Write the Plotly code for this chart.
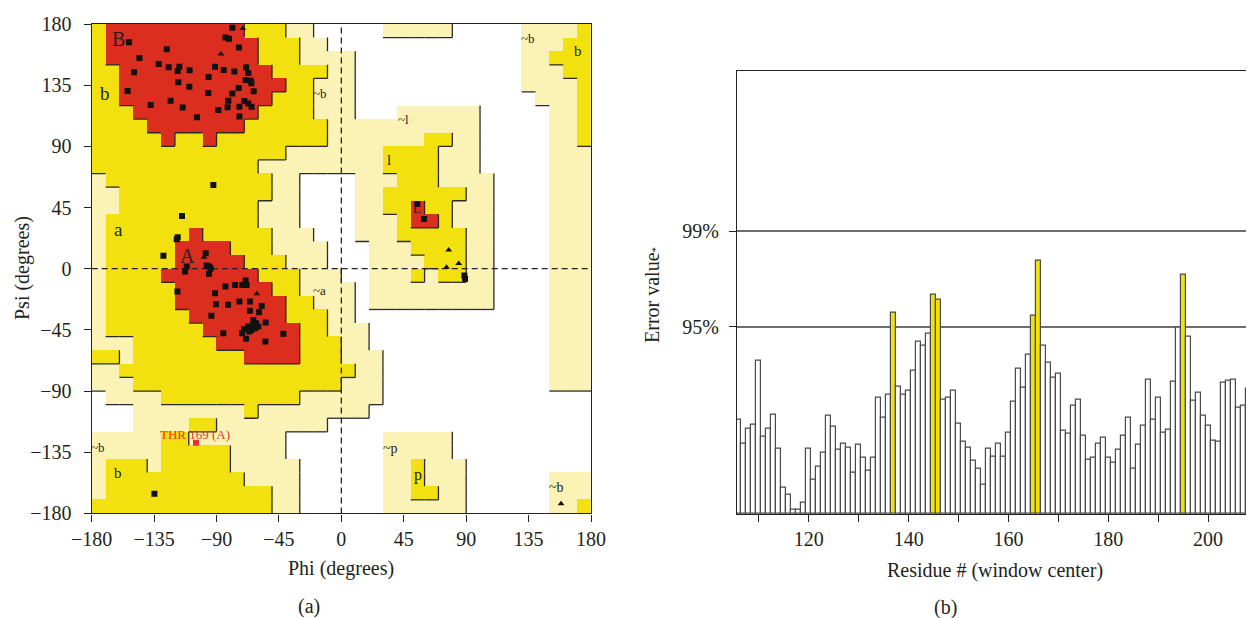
import plotly.graph_objects as go

# ---------------- Ramachandran region map (10-degree cells) ----------------
# One entry per psi band, from psi=+180 (top) down to -180; run-length "level:count" along phi -180..180
# 0 = disallowed, 1 = generously allowed, 2 = additional allowed, 3 = most favoured
region_rows = [
    "2:1 3:10 2:3 1:2 0:5 1:5 0:5 1:4 2:1",
    "2:1 3:11 2:3 1:2 0:14 1:3 2:2",
    "2:1 3:11 2:3 1:4 0:12 1:2 2:3",
    "2:2 3:11 2:4 1:2 0:12 1:3 2:2",
    "2:2 3:12 2:2 1:3 0:12 1:4 2:1",
    "2:2 3:11 2:3 1:3 0:13 1:3 2:1",
    "2:3 3:9 2:4 1:3 0:3 1:6 0:5 1:2 2:1",
    "2:4 3:7 2:6 1:11 0:5 1:2 2:1",
    "2:5 3:1 2:2 3:1 2:8 1:7 2:2 1:2 0:5 1:2 2:1",
    "2:14 1:7 2:4 1:3 0:5 1:3",
    "2:12 1:9 2:4 1:3 0:5 1:3",
    "1:1 2:12 1:2 0:4 1:3 2:3 1:4 0:4 1:3",
    "1:2 2:11 1:2 0:4 1:2 2:6 1:2 0:4 1:3",
    "1:2 2:10 1:3 0:4 1:2 2:2 3:1 2:2 1:3 0:4 1:3",
    "1:1 2:11 1:3 0:4 1:3 2:1 3:2 2:1 1:3 0:4 1:3",
    "1:1 2:6 3:1 2:5 1:3 0:3 1:3 2:5 1:2 0:4 1:3",
    "1:1 2:5 3:4 2:3 1:4 0:3 1:3 2:4 1:2 0:4 1:3",
    "1:1 2:5 3:5 2:3 1:3 0:3 1:4 2:3 1:2 0:4 1:3",
    "1:1 2:4 3:7 2:3 1:3 0:2 1:3 2:1 1:1 2:2 1:2 0:4 1:3",
    "1:1 2:5 3:7 2:2 1:4 0:1 1:9 0:4 1:3",
    "1:1 2:5 3:8 2:2 1:3 0:1 1:9 0:4 1:3",
    "1:1 2:6 3:7 2:3 1:2 0:14 1:3",
    "1:1 2:7 3:7 2:2 1:3 0:13 1:3",
    "1:3 2:6 3:6 2:3 1:2 0:13 1:3",
    "2:2 1:1 2:8 3:4 2:3 1:3 0:12 1:3",
    "1:2 2:17 1:2 0:12 1:3",
    "1:3 2:15 1:3 0:12 1:3",
    "0:1 1:4 2:10 1:6 0:15",
    "0:3 1:8 2:1 1:8 0:16",
    "0:3 1:4 2:2 1:8 0:19",
    "1:5 2:2 1:7 0:7 1:5 0:10",
    "1:5 2:5 1:4 0:7 1:5 0:10",
    "1:1 2:3 1:1 2:5 1:5 0:6 1:2 2:1 1:3 0:9",
    "1:1 2:10 1:4 0:6 1:2 2:1 1:3 0:6 1:3",
    "1:1 2:12 1:2 0:6 1:2 2:2 1:2 0:6 1:3",
    "2:13 1:2 0:6 1:6 0:6 1:2 2:1",
]

# residues (non-glycine, squares)
res_phi = [-153.1, -125.9, -145.6, -149.5, -131.7, -124.5, -116.8, -118.0, -109.4, -117.5, -109.6,
           -154.1, -123.1, -137.5, -114.4, -104.1, -95.7, -95.9, -91.1, -84.8, -88.7, -82.0, -81.5,
           -78.6, -77.1, -74.0, -73.8, -83.6, -81.0, -78.6, -68.7, -67.1, -69.0, -65.4, -64.9, -63.2,
           -73.5, -69.9, -67.1, -64.7, -73.5,
           -92.3, -114.9, -118.0, -118.7, -128.3, -97.8, -97.1, -95.2, -94.2, -111.5, -112.7, -95.4,
           -118.2, -91.1, -83.6, -76.7, -71.4, -69.0, -68.3, -90.4, -81.7, -73.5, -65.9, -65.9, -59.4,
           -57.4, -93.7, -85.1, -71.6, -68.7, -70.2, -67.1, -64.7, -63.5, -61.5, -59.9, -62.3, -54.6,
           -54.8, -41.8, -66.3, -63.5, -134.8, 54.8, 59.6, 89.2, 88.7]
res_psi = [166.5, 161.4, 155.0, 144.5, 150.6, 148.1, 148.6, 145.4, 146.0, 137.1, 133.9,
           130.8, 123.6, 120.4, 118.5, 111.4, 141.0, 129.3, 148.6, 146.2, 116.8, 118.7, 123.6,
           128.8, 145.0, 133.0, 162.8, 170.0, 169.2, 177.3, 148.1, 144.0, 138.8, 138.3, 136.4, 130.5,
           119.2, 123.4, 121.6, 119.2, 111.9,
           61.6, 38.8, 23.1, 21.6, 9.6, 11.4, 2.3, 1.6, 0.1, 1.6, -2.1, -3.8,
           -16.8, -18.0, -13.1, -11.9, -11.9, -8.7, -11.9, -26.1, -26.6, -24.2, -24.2, -31.0, -32.0,
           -27.4, -34.7, -47.5, -47.5, -51.6, -44.5, -42.6, -45.0, -37.7, -40.1, -42.6, -43.8, -39.6,
           -53.6, -47.9, -46.2, -41.3, -165.6, 47.6, 36.6, -7.5, -5.0]
# glycines (triangles)
gly_phi = [-86.8, -71.1, -99.0, -61.0, 77.4, 75.8, 84.6, 158.4]
gly_psi = [158.0, 176.6, 8.4, -18.5, 13.8, 1.0, 3.8, -172.9]
# outlier
out_phi = [-104.8]
out_psi = [-128.1]
out_label = "THR 169 (A)"

phi_ticks = [-180, -135, -90, -45, 0, 45, 90, 135, 180]

# ---------------- ERRAT data ----------------
residues = list(range(106, 210))
errat = [5.75, 4.25, 5.21, 5.41, 9.30, 4.70, 5.21, 6.01, 3.99, 1.60, 1.19, 0.24, 0.24, 0.69,
         3.95, 2.11, 2.88, 3.75, 5.95, 5.31, 3.89, 4.29, 4.03, 2.51, 4.23, 3.42, 2.61, 3.42,
         7.09, 5.85, 7.23, 12.25, 7.74, 7.23, 7.47, 8.69, 10.47, 10.21, 10.98, 13.30, 13.00,
         6.97, 7.07, 7.49, 5.47, 4.39, 4.05, 3.24, 2.77, 1.76, 3.99, 3.48, 4.29, 3.48, 4.94,
         6.82, 8.81, 7.70, 9.66, 12.03, 15.39, 10.21, 9.21, 8.28, 8.55, 5.04, 4.86, 6.56, 6.93,
         4.74, 3.32, 3.42, 4.29, 4.64, 3.42, 3.14, 3.89, 4.74, 5.85, 2.77, 4.23, 5.35, 8.18,
         5.75, 7.09, 4.94, 5.14, 8.04, 11.30, 14.52, 10.77, 6.87, 7.39, 5.97, 5.35, 4.43, 4.39,
         7.98, 8.10, 8.18, 6.48, 6.56, 7.63, 9.09]
limit95 = 11.38
limit99 = 17.19
res_major = [120, 140, 160, 180, 200]
res_minor = [110, 130, 150, 170, 190]

# ---------------- build ----------------
def decode(row):
    out = []
    for tok in row.split():
        lv, n = tok.split(":")
        out += [int(lv)] * int(n)
    assert len(out) == 36, row
    return out

grid = [decode(r) for r in region_rows]
phi_c = [-175 + 10 * i for i in range(36)]
psi_c = [175 - 10 * i for i in range(36)]

WHITE, PALE, YEL, RED = "#ffffff", "#fbf3b6", "#f2e10e", "#dc2e1e"
cs = [[0, WHITE], [1/6, WHITE], [1/6, PALE], [0.5, PALE], [0.5, YEL], [5/6, YEL], [5/6, RED], [1, RED]]

fig = go.Figure()
fig.add_trace(go.Heatmap(z=grid, x=phi_c, y=psi_c, zmin=0, zmax=3, colorscale=cs,
                         showscale=False, hoverinfo="skip", xaxis="x", yaxis="y"))

# region edge shading lines (right / bottom edges of higher regions)
bx, by = [], []
for r in range(36):
    for c in range(36):
        v = grid[r][c]
        if c < 35 and v > grid[r][c + 1]:
            xe = -180 + 10 * (c + 1)
            bx += [xe, xe, None]
            by += [180 - 10 * r, 170 - 10 * r, None]
        if r < 35 and v > grid[r + 1][c]:
            ye = 170 - 10 * r
            bx += [-180 + 10 * c, -170 + 10 * c, None]
            by += [ye, ye, None]
fig.add_trace(go.Scatter(x=bx, y=by, mode="lines", line=dict(color="#2a2a2a", width=1.3),
                         hoverinfo="skip", showlegend=False, xaxis="x", yaxis="y"))

# dashed zero lines
fig.add_trace(go.Scatter(x=[0, 0, None, -180, 180], y=[-180, 180, None, 0, 0], mode="lines",
                         line=dict(color="#222", width=1.3, dash="6px,4px"),
                         hoverinfo="skip", showlegend=False, xaxis="x", yaxis="y"))

fig.add_trace(go.Scatter(x=res_phi, y=res_psi, mode="markers",
                         marker=dict(symbol="square", size=6, color="#111"),
                         showlegend=False, xaxis="x", yaxis="y"))
fig.add_trace(go.Scatter(x=gly_phi, y=gly_psi, mode="markers",
                         marker=dict(symbol="triangle-up", size=6, color="#111"),
                         showlegend=False, xaxis="x", yaxis="y"))
fig.add_trace(go.Scatter(x=out_phi, y=out_psi, mode="markers",
                         marker=dict(symbol="square", size=6, color="#e8322a"),
                         showlegend=False, xaxis="x", yaxis="y"))

# ERRAT bars
bar_colors = ["#ffffff" if v < limit95 else ("#f2e10e" if v < limit99 else "#e02020") for v in errat]
fig.add_trace(go.Bar(x=residues, y=errat, width=1.0, marker=dict(color=bar_colors,
                     line=dict(color="#4a4a4a", width=1.2)),
                     showlegend=False, xaxis="x2", yaxis="y2"))

FONT = "Liberation Serif"
TXT = "#231f20"

# page pixel -> paper (the page body has an 8px margin)
OFF = 8
W, H = 1254 - OFF, 618 - OFF
def px(X):
    return (X - OFF) / W
def py(Y):
    return 1 - (Y - OFF) / H

def neg(v):
    return ("\u2212" + str(abs(v))) if v < 0 else str(v)

axis_common = dict(showline=True, linecolor="#222", linewidth=1.3, ticks="outside",
                   ticklen=7, tickcolor="#222", tickwidth=1.2, zeroline=False,
                   automargin=False, tickfont=dict(family=FONT, size=20, color=TXT))

fig.update_layout(
    width=W, height=H, autosize=False,
    margin=dict(l=0, r=0, t=0, b=0, autoexpand=False),
    paper_bgcolor="white", plot_bgcolor="white",
    bargap=0,
    xaxis=dict(domain=[px(91.7), px(591)], range=[-180, 180], tickvals=phi_ticks,
               ticktext=[neg(v) for v in phi_ticks], mirror=True, showgrid=False, **axis_common),
    yaxis=dict(domain=[py(513.4), py(24)], range=[-180, 180], tickvals=phi_ticks,
               ticktext=[neg(v) for v in phi_ticks], mirror=True, showgrid=False,
               ticklabelstandoff=8, **axis_common),
    xaxis2=dict(domain=[px(737), 1.0], range=[105.6, 209.2], tickvals=res_major,
                ticktext=[str(v) for v in res_major], mirror=True, showgrid=False,
                minor=dict(tickvals=res_minor, ticks="outside", ticklen=7, tickcolor="#222",
                           tickwidth=1.2, showgrid=False),
                anchor="y2", **axis_common),
    yaxis2=dict(domain=[py(514), py(70.7)], range=[0, 26.93],
                tickvals=[limit95, limit99], ticktext=["95%", "99%"], anchor="x2",
                showgrid=True, gridcolor="#6e6e6e", gridwidth=1.6, ticklabelstandoff=6,
                **axis_common),
)

ann = []
def paper_text(t, x, y, size=20, angle=0):
    ann.append(dict(text=t, x=px(x), y=py(y), xref="paper", yref="paper",
                    showarrow=False, textangle=angle, xanchor="center", yanchor="middle",
                    font=dict(family=FONT, size=size, color=TXT)))

paper_text("Psi (degrees)", 22, 268, angle=-90)
paper_text("Phi (degrees)", 341, 568)
paper_text("(a)", 309, 606)
paper_text("Error value<span style='font-size:11px'>*</span>", 652, 295, angle=-90)
paper_text("Residue # (window center)", 995, 570)
paper_text("(b)", 945, 607)

labels = [("B", -160.8, 169, 20), ("b", -170.2, 129, 19), ("a", -160.8, 29, 19), ("A", -110.8, 9.4, 20),
          ("~b", -15.4, 129, 13), ("~l", 44.7, 109.4, 13), ("l", 34.6, 80, 15), ("L", 54.8, 44.5, 13),
          ("~b", 134.8, 169.5, 13), ("b", 170.8, 160, 15), ("~a", -15.4, -16, 13), ("~b", -175.2, -131.3, 13),
          ("b", -160.8, -150.4, 15), ("~p", 35.1, -132, 14), ("p", 55.5, -151.6, 16), ("~b", 155.3, -160.7, 14)]
for t, x, y, s in labels:
    ann.append(dict(text=t, x=x, y=y, xref="x", yref="y", showarrow=False,
                    font=dict(family=FONT, size=s, color="#222")))
ann.append(dict(text=out_label, x=-105.4, y=-122.2, xref="x", yref="y", showarrow=False,
                font=dict(family=FONT, size=13, color="#e8322a")))
fig.update_layout(annotations=ann)

fig.write_html("out.html")
